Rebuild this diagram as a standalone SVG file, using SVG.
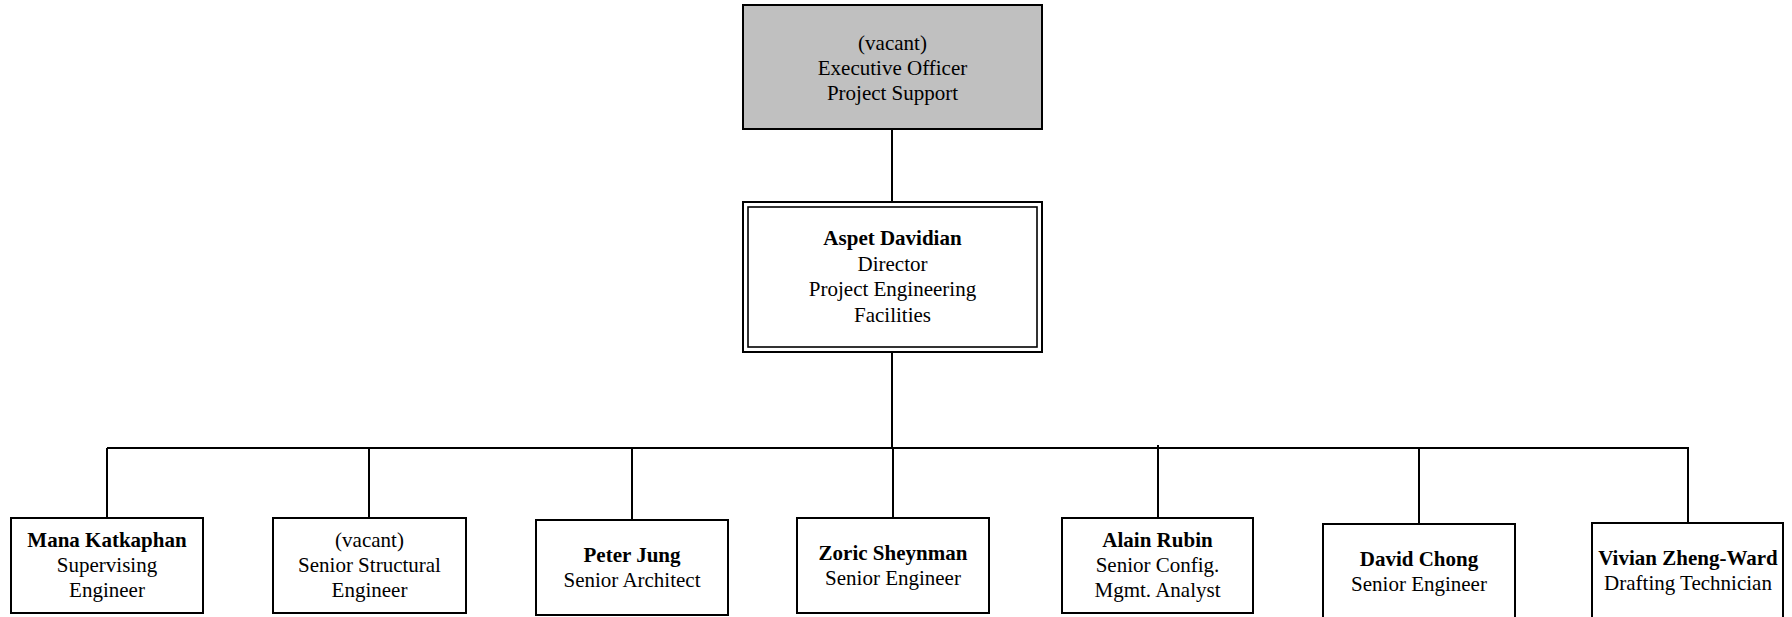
<svg xmlns="http://www.w3.org/2000/svg" width="1792" height="617" viewBox="0 0 1792 617">
<style>
.bx{fill:#ffffff;stroke:#000000;stroke-width:2}
.gr{fill:#c0c0c0;stroke:#000000;stroke-width:2}
.dbl{fill:none;stroke:#000000;stroke-width:1.6}
.cn{fill:none;stroke:#000000;stroke-width:2}
text{font-family:"Liberation Serif","Times New Roman",serif;font-size:21px;fill:#000000;text-anchor:middle}
.b{font-weight:bold}
</style>
<rect width="1792" height="617" fill="#ffffff"/>
<g id="connectors">
<line class="cn" x1="892" y1="129" x2="892" y2="202"/>
<line class="cn" x1="892" y1="352" x2="892" y2="448"/>
<line class="cn" x1="107" y1="448" x2="1688" y2="448"/>
<line class="cn" x1="107" y1="448" x2="107" y2="518"/>
<line class="cn" x1="369" y1="448" x2="369" y2="518"/>
<line class="cn" x1="632" y1="448" x2="632" y2="520"/>
<line class="cn" x1="893" y1="448" x2="893" y2="518"/>
<line class="cn" x1="1158" y1="445" x2="1158" y2="518"/>
<line class="cn" x1="1419" y1="448" x2="1419" y2="524"/>
<line class="cn" x1="1688" y1="447" x2="1688" y2="523"/>
</g>
<g id="exec">
<rect class="gr" x="743" y="5" width="299" height="124"/>
<text x="892.5" y="50">(vacant)</text>
<text x="892.5" y="75">Executive Officer</text>
<text x="892.5" y="100">Project Support</text>
</g>
<g id="director">
<rect class="bx" x="743" y="202" width="299" height="150"/>
<rect class="dbl" x="748" y="207" width="289" height="140"/>
<text class="b" x="892.5" y="245">Aspet Davidian</text>
<text x="892.5" y="270.5">Director</text>
<text x="892.5" y="296">Project Engineering</text>
<text x="892.5" y="321.5">Facilities</text>
</g>
<g id="mana">
<rect class="bx" x="11" y="518" width="192" height="95"/>
<text class="b" x="107" y="547">Mana Katkaphan</text>
<text x="107" y="572">Supervising</text>
<text x="107" y="597">Engineer</text>
</g>
<g id="structural">
<rect class="bx" x="273" y="518" width="193" height="95"/>
<text x="369.5" y="547">(vacant)</text>
<text x="369.5" y="572">Senior Structural</text>
<text x="369.5" y="597">Engineer</text>
</g>
<g id="peter">
<rect class="bx" x="536" y="520" width="192" height="95"/>
<text class="b" x="632" y="562">Peter Jung</text>
<text x="632" y="587">Senior Architect</text>
</g>
<g id="zoric">
<rect class="bx" x="797" y="518" width="192" height="95"/>
<text class="b" x="893" y="560">Zoric Sheynman</text>
<text x="893" y="585">Senior Engineer</text>
</g>
<g id="alain">
<rect class="bx" x="1062" y="518" width="191" height="95"/>
<text class="b" x="1157.5" y="547">Alain Rubin</text>
<text x="1157.5" y="572">Senior Config.</text>
<text x="1157.5" y="597">Mgmt. Analyst</text>
</g>
<g id="david">
<rect class="bx" x="1323" y="524" width="192" height="95"/>
<text class="b" x="1419" y="566">David Chong</text>
<text x="1419" y="591">Senior Engineer</text>
</g>
<g id="vivian">
<rect class="bx" x="1592" y="523" width="191" height="95"/>
<text class="b" x="1688" y="565">Vivian Zheng-Ward</text>
<text x="1688" y="590">Drafting Technician</text>
</g>
</svg>
